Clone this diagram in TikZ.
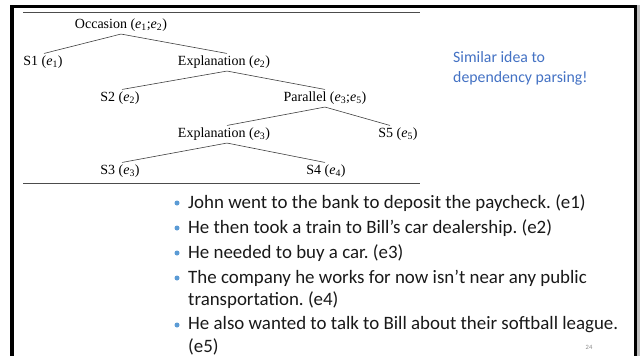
\documentclass[tikz,border=0pt]{standalone}
\usepackage{fontspec}
\newfontfamily\treefont{Liberation Serif}
\newfontfamily\bodyfont{Carlito}
\definecolor{noteblue}{HTML}{4472C4}
\definecolor{bulletblue}{HTML}{5B9BD5}
\newcommand{\ev}[1]{\textit{e}\textsubscript{#1}}
\frenchspacing
\tikzset{
  tnode/.style={font=\treefont\fontsize{14}{15}\selectfont, inner sep=0pt, anchor=center},
  tedge/.style={draw=black!75, line width=0.6pt},
  rulebar/.style={line width=0.8pt, draw=black!70},
  item/.style={font=\bodyfont\fontsize{18.9}{22}\selectfont, anchor=west, inner sep=0pt, text=black!90},
  bul/.style={circle, fill=bulletblue, minimum size=5pt, inner sep=0pt},
  note/.style={font=\bodyfont\fontsize{15.8}{20}\selectfont, text=noteblue, anchor=west, inner sep=0pt, align=left},
}
\begin{document}
\begin{tikzpicture}[x=1pt,y=-1pt]
\useasboundingbox (0,0) rectangle (640,356);
\fill[white] (0,0) rectangle (640,356);
% frame
\fill[black] (10,5) rectangle (637,8);
\fill[black] (10,5) rectangle (13.5,356);
\fill[black] (634,5) rectangle (637,356);
\fill[black!25] (637,5) rectangle (640,356);
% horizontal rules
\coordinate (r1a) at (23,12.5); \coordinate (r1b) at (420,12.5);
\coordinate (r2a) at (23,183); \coordinate (r2b) at (420,183);
\draw[rulebar] (r1a) -- (r1b);
\draw[rulebar] (r2a) -- (r2b);
% tree nodes
\node[tnode] (occ) at (121,25) {Occasion (\ev{1};\ev{2})};
\node[tnode] (s1) at (43,62) {S1 (\ev{1})};
\node[tnode] (ex2) at (224,62) {Explanation (\ev{2})};
\node[tnode] (s2) at (120,98) {S2 (\ev{2})};
\node[tnode] (par) at (325,98) {Parallel (\ev{3};\ev{5})};
\node[tnode] (ex3) at (224,134) {Explanation (\ev{3})};
\node[tnode] (s5) at (398,134) {S5 (\ev{5})};
\node[tnode] (s3) at (120,171) {S3 (\ev{3})};
\node[tnode] (s4) at (326,171) {S4 (\ev{4})};
% tree edges
\draw[tedge] ([yshift=-2.5pt]occ.south) -- ([xshift=1pt,yshift=2pt]s1.north);
\draw[tedge] ([yshift=-2.5pt]occ.south) -- ([xshift=3pt,yshift=2pt]ex2.north);
\draw[tedge] ([xshift=3pt,yshift=-2.5pt]ex2.south) -- ([xshift=2pt,yshift=2pt]s2.north);
\draw[tedge] ([xshift=3pt,yshift=-2.5pt]ex2.south) -- ([yshift=2pt]par.north);
\draw[tedge] ([yshift=-2.5pt]par.south) -- ([xshift=3pt,yshift=2pt]ex3.north);
\draw[tedge] ([yshift=-2.5pt]par.south) -- ([xshift=-8pt,yshift=2pt]s5.north);
\draw[tedge] ([xshift=3pt,yshift=-2.5pt]ex3.south) -- ([xshift=2pt,yshift=2pt]s3.north);
\draw[tedge] ([xshift=3pt,yshift=-2.5pt]ex3.south) -- ([xshift=-1pt,yshift=2pt]s4.north);
% note
\node[note] (nt) at (453,68) {Similar idea to\\dependency parsing!};
% bullet list
\node[bul] (b1) at (177,203) {};
\node[item] (t1) at (188,203) {John went to the bank to deposit the paycheck. (e1)};
\node[bul] (b2) at (177,228) {};
\node[item] (t2) at (188,228) {He then took a train to Bill’s car dealership. (e2)};
\node[bul] (b3) at (177,253) {};
\node[item] (t3) at (188,253) {He needed to buy a car. (e3)};
\node[bul] (b4) at (177,278) {};
\node[item] (t4) at (188,278) {The company he works for now isn’t near any public};
\node[item] (t4b) at (188,300) {transportation. (e4)};
\node[bul] (b5) at (177,325) {};
\node[item] (t5) at (188,325) {He also wanted to talk to Bill about their softball league.};
\node[item] (t5b) at (188,347) {(e5)};
% page number
\node[font=\bodyfont\fontsize{6.5}{8}\selectfont, text=black!45, inner sep=0pt] (pg) at (589,347) {24};
\end{tikzpicture}
\end{document}
